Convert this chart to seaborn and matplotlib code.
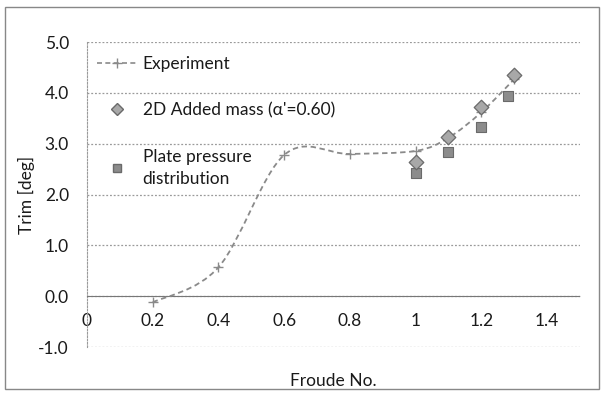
import numpy as np
import pandas as pd
import matplotlib
matplotlib.use('Agg')
import matplotlib.pyplot as plt
from matplotlib.path import Path
from matplotlib.patches import PathPatch, Rectangle
from matplotlib.lines import Line2D
import seaborn as sns

# values
exp_fr = [0.2, 0.4, 0.6, 0.8, 1.0, 1.1, 1.2, 1.3]
exp_trim = [-0.12, 0.57, 2.78, 2.80, 2.86, 3.12, 3.62, 4.27]

am_fr = [1.0, 1.1, 1.2, 1.3]
am_trim = [2.65, 3.13, 3.72, 4.36]

pp_fr = [1.0, 1.1, 1.2, 1.28]
pp_trim = [2.42, 2.83, 3.33, 3.95]

x_ticks = [0, 0.2, 0.4, 0.6, 0.8, 1, 1.2, 1.4]
x_ticklabels = ['0', '0.2', '0.4', '0.6', '0.8', '1', '1.2', '1.4']
y_ticks = [-1, 0, 1, 2, 3, 4, 5]

df_am = pd.DataFrame({'Fr': am_fr, 'Trim': am_trim})
df_pp = pd.DataFrame({'Fr': pp_fr, 'Trim': pp_trim})
df_exp = pd.DataFrame({'Fr': exp_fr, 'Trim': exp_trim})

sns.set_style('white')
plt.rcParams['font.family'] = ['Lato', 'DejaVu Sans']

fig = plt.figure(figsize=(6.04, 3.94), dpi=100)
ax = fig.add_axes([0.144, 0.119, 0.816, 0.774])

line_col = '#8a8a8a'
grid_col = '#9a9a9a'
text_col = '#1a1a1a'
fs = 12.5

# excel style smoothed line (bezier through the points)
pts = np.column_stack([exp_fr, exp_trim])
verts = [pts[0]]
codes = [Path.MOVETO]
n = len(pts)
for i in range(n - 1):
    p0 = pts[i - 1] if i > 0 else pts[i]
    p1 = pts[i]
    p2 = pts[i + 1]
    p3 = pts[i + 2] if i + 2 < n else pts[i + 1]
    verts += [p1 + (p2 - p0) / 6, p2 - (p3 - p1) / 6, p2]
    codes += [Path.CURVE4] * 3
ax.add_patch(PathPatch(Path(verts, codes), fill=False, edgecolor=line_col,
                       lw=1.3, ls=(0, (3, 2)), zorder=3))

sns.scatterplot(data=df_exp, x='Fr', y='Trim', marker='+', s=55, color=line_col,
                linewidth=1.0, ax=ax, zorder=4, legend=False)
sns.scatterplot(data=df_pp, x='Fr', y='Trim', marker='s', s=50, color='#8c8c8c',
                edgecolor='#6a6a6a', linewidth=0.8, ax=ax, zorder=5, legend=False)
sns.scatterplot(data=df_am, x='Fr', y='Trim', marker='D', s=55, color='#a8a8a8',
                edgecolor='#6a6a6a', linewidth=0.9, ax=ax, zorder=6, legend=False)

ax.set_xlim(0, 1.5)
ax.set_ylim(-1, 5)
ax.set_xticks(x_ticks)
ax.set_xticklabels(x_ticklabels)
ax.set_yticks(y_ticks)
ax.set_yticklabels([f'{v:.1f}' for v in y_ticks])

for v in y_ticks:
    ax.axhline(v, color=grid_col, lw=0.9, ls=(0, (1.5, 1.5)), zorder=1)

for s in ['top', 'right']:
    ax.spines[s].set_visible(False)
ax.spines['bottom'].set_position(('data', 0))
ax.spines['bottom'].set_color('#777777')
ax.spines['bottom'].set_linestyle((0, (2, 1)))
ax.spines['left'].set_color(grid_col)
ax.spines['left'].set_linestyle((0, (1.5, 1.5)))
ax.tick_params(axis='x', length=0, pad=12, labelsize=fs, colors=text_col)
ax.tick_params(axis='y', length=0, pad=13, labelsize=fs, colors=text_col)

ax.set_xlabel('Froude No.', fontsize=fs, color=text_col)
ax.xaxis.set_label_coords(0.5, -0.085)
ax.set_ylabel('Trim [deg]', fontsize=fs, color=text_col)
ax.yaxis.set_label_coords(-0.105, 0.5)

handles = [
    Line2D([], [], color=line_col, lw=1.2, ls=(0, (3, 2)), marker='+', markersize=7),
    Line2D([], [], ls='none', marker='D', markersize=6.5, markerfacecolor='#a8a8a8',
           markeredgecolor='#6a6a6a'),
    Line2D([], [], ls='none', marker='s', markersize=6, markerfacecolor='#8c8c8c',
           markeredgecolor='#6a6a6a'),
]
labels = ['Experiment', "2D Added mass (\u03b1'=0.60)", 'Plate pressure\ndistribution']
leg = ax.legend(handles, labels, loc='upper left', bbox_to_anchor=(0.0, 0.99),
                frameon=False, fontsize=fs, labelspacing=1.75, handlelength=2.3,
                handletextpad=0.3, borderaxespad=0.2)
for t in leg.get_texts():
    t.set_color(text_col)
    t.set_linespacing(1.5)

fig.patches.append(Rectangle((0.008, 0.012), 0.984, 0.97, transform=fig.transFigure,
                             fill=False, edgecolor='#888888', lw=1.0))

plt.savefig('out.png', dpi=100)
